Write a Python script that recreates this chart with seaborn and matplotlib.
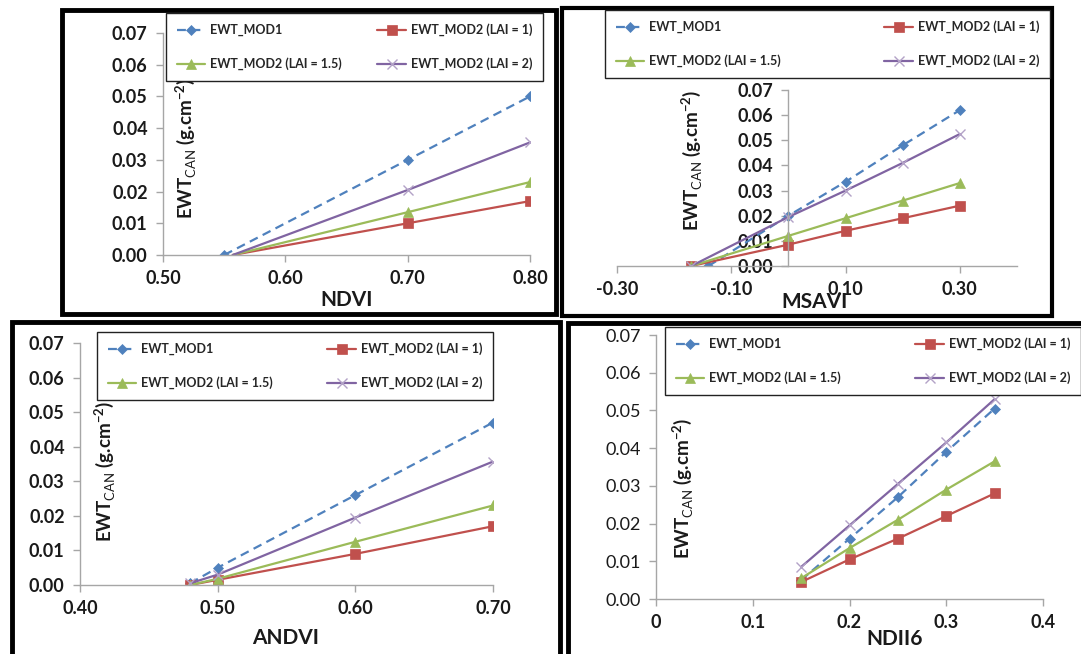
import numpy as np
import pandas as pd
import matplotlib
matplotlib.use("Agg")
import matplotlib.pyplot as plt
import seaborn as sns
from matplotlib.patches import Rectangle
from matplotlib.ticker import FormatStrFormatter, FixedLocator

sns.set_theme(style="white")
plt.rcParams['font.family'] = ['Lato', 'DejaVu Sans']
plt.rcParams['mathtext.fontset'] = 'custom'
plt.rcParams['mathtext.rm'] = 'Lato'
plt.rcParams['mathtext.bf'] = 'Lato:bold'

# ---------------- data ----------------
series_names = ["EWT_MOD1", "EWT_MOD2 (LAI = 1)", "EWT_MOD2 (LAI = 1.5)", "EWT_MOD2 (LAI = 2)"]

# NDVI panel
ndvi_x_mod1 = [0.55, 0.70, 0.80]
ndvi_mod1 = [0.0, 0.030, 0.050]
ndvi_x_mod2 = [0.557, 0.70, 0.80]
ndvi_lai1 = [0.0, 0.010, 0.017]
ndvi_lai15 = [0.0, 0.0135, 0.023]
ndvi_lai2 = [0.0, 0.0205, 0.0355]

# MSAVI panel
msavi_x_mod1 = [-0.14, 0.0, 0.10, 0.20, 0.30]
msavi_mod1 = [0.0, 0.020, 0.0335, 0.048, 0.062]
msavi_x_mod2 = [-0.17, 0.0, 0.10, 0.20, 0.30]
msavi_lai1 = [0.0, 0.0085, 0.014, 0.019, 0.024]
msavi_lai15 = [0.0, 0.012, 0.019, 0.026, 0.033]
msavi_lai2 = [0.0, 0.0195, 0.030, 0.041, 0.0525]

# ANDVI panel
andvi_x = [0.48, 0.50, 0.60, 0.70]
andvi_mod1 = [0.0005, 0.005, 0.026, 0.047]
andvi_lai1 = [0.0, 0.0015, 0.009, 0.017]
andvi_lai15 = [0.0, 0.0018, 0.0125, 0.023]
andvi_lai2 = [0.0005, 0.003, 0.0195, 0.0357]

# NDII6 panel
ndii_x = [0.15, 0.20, 0.25, 0.30, 0.35]
ndii_mod1 = [0.005, 0.016, 0.027, 0.039, 0.0505]
ndii_lai1 = [0.0045, 0.0105, 0.016, 0.022, 0.028]
ndii_lai15 = [0.0055, 0.0135, 0.021, 0.029, 0.0365]
ndii_lai2 = [0.0085, 0.0195, 0.0305, 0.0415, 0.053]

y_ticks = [0.0, 0.01, 0.02, 0.03, 0.04, 0.05, 0.06, 0.07]
ndvi_ticks = [0.50, 0.60, 0.70, 0.80]
msavi_ticks = [-0.30, -0.10, 0.10, 0.30]
andvi_ticks = [0.40, 0.50, 0.60, 0.70]
ndii_ticks = [0.0, 0.1, 0.2, 0.3, 0.4]

# ---------------- styles ----------------
colors = ["#4F81BD", "#C0504D", "#9BBB59", "#8064A2"]
markers = ["D", "s", "^", "x"]
msizes = [5.5, 7, 7, 7]
lstyles = [(0, (4, 2.5)), "-", "-", "-"]

W, H = 1081, 654
fig = plt.figure(figsize=(W / 100, H / 100), dpi=100)
fig.patch.set_facecolor("white")


def px_axes(l, t, r, b):
    return fig.add_axes([l / W, 1 - b / H, (r - l) / W, (b - t) / H])


def frame(l, t, r, b, lw=3):
    fig.patches.append(Rectangle((l / W, 1 - b / H), (r - l) / W, (b - t) / H,
                                 transform=fig.transFigure, fill=False,
                                 edgecolor="black", linewidth=lw, zorder=0))


def draw_panel(ax, xs_list, ys_list, hide_first):
    for i, (xs, ys) in enumerate(zip(xs_list, ys_list)):
        df = pd.DataFrame({"x": xs, "y": ys})
        me = slice(1, None) if hide_first[i] else None
        sns.lineplot(data=df, x="x", y="y", ax=ax, color=colors[i], marker=markers[i],
                     markersize=msizes[i], markeredgecolor=colors[i],
                     markeredgewidth=1.0 if i == 3 else 0.5,
                     linestyle=lstyles[i], linewidth=1.6, label=series_names[i],
                     markevery=me, legend=False, sort=False)
    for line, i in zip(ax.lines, range(4)):
        if i == 3:
            line.set_markeredgecolor("#B3A2C7")
    ax.set_xlabel("")
    ax.set_ylabel("")


def style_axes(ax, xlim, xticks, xfmt, ybold=True, xbold=True, ycross=None):
    ax.set_ylim(0, 0.07)
    ax.set_xlim(*xlim)
    ax.yaxis.set_major_locator(FixedLocator(y_ticks))
    ax.xaxis.set_major_locator(FixedLocator(xticks))
    ax.yaxis.set_major_formatter(FormatStrFormatter("%.2f"))
    ax.xaxis.set_major_formatter(xfmt)
    for s in ["top", "right"]:
        ax.spines[s].set_visible(False)
    for s in ["left", "bottom"]:
        ax.spines[s].set_color("#A6A6A6")
        ax.spines[s].set_linewidth(1.0)
    if ycross is not None:
        ax.spines["left"].set_position(("data", ycross))
    ax.tick_params(axis="both", which="major", direction="out", length=5, width=1,
                   color="#A6A6A6", labelsize=13, labelcolor="#1a1a1a", pad=6,
                   left=True, bottom=True)
    for lab in ax.get_yticklabels():
        lab.set_fontweight("bold" if ybold else "normal")
    for lab in ax.get_xticklabels():
        lab.set_fontweight("bold" if xbold else "normal")
    ax.set_facecolor("none")


def add_legend(ax, l, t, r, b):
    h, lbl = ax.get_legend_handles_labels()
    order = [0, 2, 1, 3]
    leg = fig.legend([h[k] for k in order], [lbl[k] for k in order],
                     loc="upper left", ncol=2,
                     bbox_to_anchor=(l / W, 1 - b / H, (r - l) / W, (b - t) / H),
                     bbox_transform=fig.transFigure, mode="expand",
                     borderaxespad=0, frameon=True, fancybox=False,
                     edgecolor="#222222", framealpha=1, handlelength=2.3,
                     prop={"weight": "bold", "size": 9}, labelspacing=1.7,
                     borderpad=0.85, handletextpad=0.4)
    leg.get_frame().set_linewidth(1.0)
    return leg


ylab = r"EWT$_{\mathrm{CAN}}$ (g.cm$^{\mathbf{-2}}$)"

# ---------------- panel 1: NDVI ----------------
frame(62, 10, 556, 314, lw=3.5)
ax1 = px_axes(163, 33, 530, 255)
draw_panel(ax1, [ndvi_x_mod1, ndvi_x_mod2, ndvi_x_mod2, ndvi_x_mod2],
           [ndvi_mod1, ndvi_lai1, ndvi_lai15, ndvi_lai2], [False, True, True, True])
style_axes(ax1, (0.50, 0.80), ndvi_ticks, FormatStrFormatter("%.2f"))
add_legend(ax1, 166, 13, 543, 82)
fig.text(186 / W, 1 - 148 / H, ylab, rotation=90, ha="center", va="center",
         fontsize=13.5, fontweight="bold", color="#1a1a1a")
fig.text(347 / W, 1 - 300 / H, "NDVI", ha="center", va="center",
         fontsize=15, fontweight="bold", color="#1a1a1a")

# ---------------- panel 2: MSAVI ----------------
frame(562, 8, 1052, 316, lw=3)
ax2 = px_axes(617, 90, 1017, 266)
draw_panel(ax2, [msavi_x_mod1, msavi_x_mod2, msavi_x_mod2, msavi_x_mod2],
           [msavi_mod1, msavi_lai1, msavi_lai15, msavi_lai2], [False, False, False, False])
style_axes(ax2, (-0.30, 0.40), msavi_ticks, FormatStrFormatter("%.2f"), ycross=0.0)
add_legend(ax2, 605, 10, 1050, 75)
fig.text(692 / W, 1 - 160 / H, ylab, rotation=90, ha="center", va="center",
         fontsize=13.5, fontweight="bold", color="#1a1a1a")
fig.text(815 / W, 1 - 302 / H, "MSAVI", ha="center", va="center",
         fontsize=15, fontweight="bold", color="#1a1a1a")

# ---------------- panel 3: ANDVI ----------------
frame(12, 322, 560, 660, lw=3.5)
ax3 = px_axes(80, 343, 493, 585)
draw_panel(ax3, [andvi_x] * 4, [andvi_mod1, andvi_lai1, andvi_lai15, andvi_lai2],
           [False, False, False, False])
style_axes(ax3, (0.40, 0.70), andvi_ticks, FormatStrFormatter("%.2f"))
add_legend(ax3, 97, 332, 493, 403)
fig.text(105 / W, 1 - 471 / H, ylab, rotation=90, ha="center", va="center",
         fontsize=13.5, fontweight="bold", color="#1a1a1a")
fig.text(286 / W, 1 - 638 / H, "ANDVI", ha="center", va="center",
         fontsize=15, fontweight="bold", color="#1a1a1a")

# ---------------- panel 4: NDII6 ----------------
frame(568, 323, 1090, 660, lw=3.5)
ax4 = px_axes(656, 335, 1043, 599)
draw_panel(ax4, [ndii_x] * 4, [ndii_mod1, ndii_lai1, ndii_lai15, ndii_lai2],
           [False, False, False, False])
style_axes(ax4, (0.0, 0.4), ndii_ticks, FormatStrFormatter("%g"), ybold=False)
add_legend(ax4, 665, 327, 1081, 403)
fig.text(683 / W, 1 - 488 / H, ylab, rotation=90, ha="center", va="center",
         fontsize=13.5, fontweight="bold", color="#1a1a1a")
fig.text(895 / W, 1 - 639 / H, "NDII6", ha="center", va="center",
         fontsize=15, fontweight="bold", color="#1a1a1a")

fig.savefig("out.png", dpi=100, facecolor="white")
